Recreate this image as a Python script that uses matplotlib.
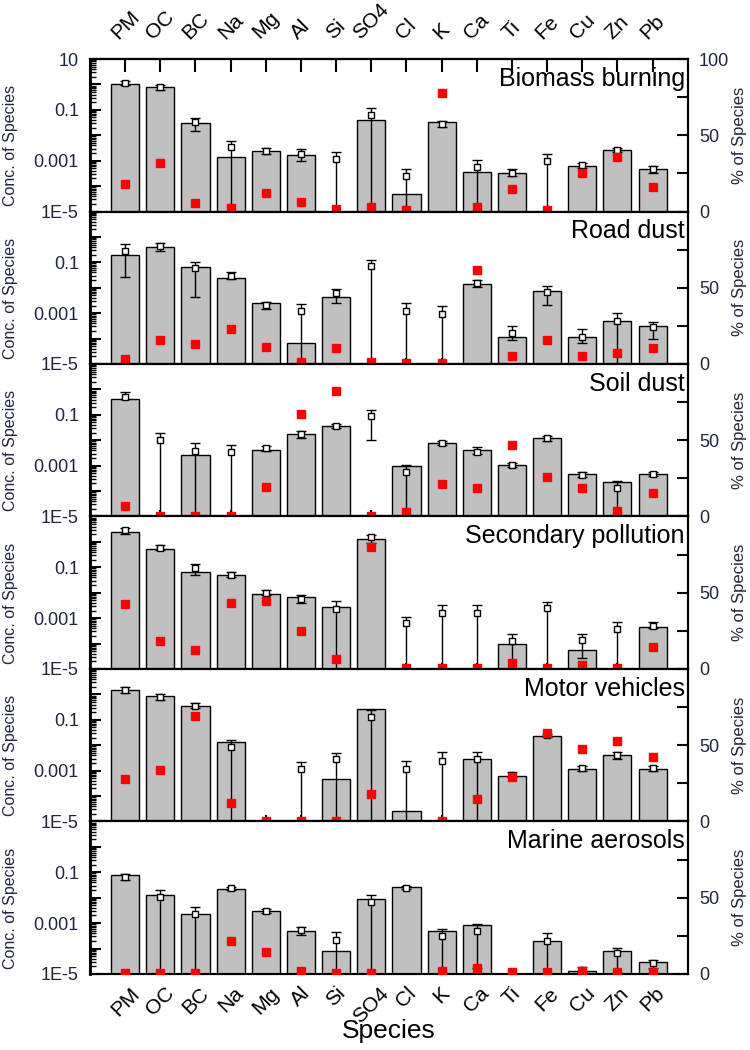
import numpy as np
import matplotlib
matplotlib.use('Agg')
import matplotlib.pyplot as plt
from matplotlib.ticker import FixedLocator, FixedFormatter, LogLocator, NullFormatter

plt.rcParams['font.family'] = ['Liberation Sans', 'DejaVu Sans']

species = ['PM', 'OC', 'BC', 'Na', 'Mg', 'Al', 'Si', 'SO4', 'Cl', 'K', 'Ca', 'Ti', 'Fe', 'Cu', 'Zn', 'Pb']
sources = ['Biomass burning', 'Road dust', 'Soil dust', 'Secondary pollution',
           'Motor vehicles', 'Marine aerosols']
N = None
FLOOR = 1e-7  # lower error limit that falls below the axis

# ---------------- Biomass burning ----------------
bb_bar = [1.0, 0.8, 0.03, 1.4e-3, 2.4e-3, 1.65e-3, N, 0.04, 4.8e-5, 0.032, 3.7e-4, 3.4e-4, N, 6.3e-4, 2.6e-3, 4.7e-4]
bb_mean = [1.1, 0.77, 0.034, 3.4e-3, 2.5e-3, 1.9e-3, 1.15e-3, 0.063, 2.6e-4, 0.028, 5.8e-4, 3.4e-4, 9.5e-4, 6.5e-4, 2.6e-3, 4.6e-4]
bb_hi = [1.36, 0.95, 0.049, 6.2e-3, 3.2e-3, 2.9e-3, 2.2e-3, 0.117, 4.7e-4, 0.038, 1.1e-3, 4.6e-4, 1.8e-3, 7.8e-4, 3.2e-3, 6.3e-4]
bb_lo = [0.91, 0.63, 0.015, FLOOR, 1.8e-3, 1.0e-3, FLOOR, FLOOR, FLOOR, 0.022, FLOOR, 2.6e-4, FLOOR, 5.3e-4, 2.1e-3, 3.4e-4]
bb_pct = [18, 32, 5.8, 2, 12, 6, 1.5, 3, 1, 78, 3, 14.8, 1, 25, 36, 16]

# ---------------- Road dust ----------------
rd_bar = [0.19, 0.41, 0.063, 0.025, 2.45e-3, 7e-5, 4.5e-3, N, N, N, 0.0138, 1.2e-4, 7.4e-3, 1.2e-4, 4.9e-4, 3.2e-4]
rd_mean = [0.29, 0.44, 0.058, 0.03, 2.1e-3, 1.26e-3, 6.5e-3, 0.072, 1.26e-3, 9.3e-4, 0.015, 1.6e-4, 7.1e-3, 1.2e-4, 5e-4, 2.8e-4]
rd_hi = [0.52, 0.59, 0.107, 0.041, 2.75e-3, 2.3e-3, 8.9e-3, 0.12, 2.5e-3, 1.9e-3, 0.02, 3.2e-4, 0.0117, 2.4e-4, 1.0e-3, 4.3e-4]
rd_lo = [0.0275, 0.28, 4.5e-3, 0.0214, 1.4e-3, FLOOR, 2.45e-3, FLOOR, FLOOR, FLOOR, 0.011, 9e-5, 2.1e-3, 6.6e-5, FLOOR, 9.3e-5]
rd_pct = [3, 15.7, 13, 22.8, 11, 1.3, 10.7, 1, 0.5, 0.5, 61.6, 5, 16, 5, 7.4, 10.3]

# ---------------- Soil dust ----------------
sd_bar = [0.42, N, 2.6e-3, N, 4.2e-3, 0.0178, 0.036, N, 9.8e-4, 7.6e-3, 4.2e-3, 1.07e-3, 0.012, 4.6e-4, 2.2e-4, 4.6e-4]
sd_mean = [0.5, 0.0102, 3.9e-3, 3.5e-3, 4.8e-3, 0.018, 0.036, 0.089, 5.5e-4, 7.6e-3, 3.6e-3, 1.07e-3, 0.012, 4.3e-4, 1.3e-4, 4.8e-4]
sd_hi = [0.79, 0.02, 7.6e-3, 6.6e-3, 5.9e-3, 0.024, 0.045, 0.162, 1.07e-3, 9e-3, 5.3e-3, 1.25e-3, 0.015, 5.5e-4, 2.45e-4, 5.6e-4]
sd_lo = [0.42, FLOOR, FLOOR, FLOOR, 3.9e-3, 0.0126, 0.03, 0.0102, FLOOR, 6.5e-3, 3e-3, 9e-4, 9.5e-3, 3.6e-4, FLOOR, 4e-4]
sd_pct = [7, 0.5, 0.5, 0.5, 19.5, 67, 82, 0.5, 3, 21, 19, 46.7, 26, 18.8, 3.6, 15.6]

# ---------------- Secondary pollution ----------------
sp_bar = [2.5, 0.53, 0.066, 0.05, 9.3e-3, 6.5e-3, 2.8e-3, 1.35, N, N, N, 1e-4, N, 5.5e-5, N, 4.4e-4]
sp_mean = [2.9, 0.59, 0.095, 0.05, 0.01, 5.9e-3, 2.3e-3, 1.55, 6.2e-4, 1.6e-3, 1.6e-3, 1.23e-4, 2.4e-3, 1.35e-4, 3.9e-4, 5.1e-4]
sp_hi = [3.6, 0.79, 0.14, 0.066, 0.0123, 7.8e-3, 4.6e-3, 1.95, 1.15e-3, 3.2e-3, 3.2e-3, 2.4e-4, 4.4e-3, 2.3e-4, 6.9e-4, 6.9e-4]
sp_lo = [2.1, 0.46, 0.052, 0.04, 7.8e-3, 4e-3, FLOOR, 0.93, FLOOR, FLOOR, FLOOR, FLOOR, FLOOR, 2.7e-5, FLOOR, 4.1e-4]
sp_pct = [42.4, 18.6, 12.5, 43.5, 44.6, 25, 6.5, 79.8, 0.5, 0.5, 0.5, 4, 0.5, 2.6, 0.5, 14.6]

# ---------------- Motor vehicles ----------------
mv_bar = [1.5, 0.87, 0.36, 0.0134, N, N, 4.6e-4, 0.27, 2.6e-5, N, 2.9e-3, 6.1e-4, 0.024, 1.2e-3, 4e-3, 1.2e-3]
mv_mean = [1.45, 0.8, 0.36, 8.8e-3, N, 1.18e-3, 2.8e-3, 0.13, 1.18e-3, 2.5e-3, 2.9e-3, 7e-4, 0.025, 1.25e-3, 4.2e-3, 1.25e-3]
mv_hi = [1.9, 1.0, 0.45, 0.0158, N, 2.2e-3, 5.1e-3, 0.245, 2.5e-3, 5.2e-3, 5.6e-3, 9.1e-4, 0.028, 1.5e-3, 5.5e-3, 1.5e-3]
mv_lo = [1.1, 0.6, 0.3, FLOOR, N, FLOOR, FLOOR, FLOOR, FLOOR, FLOOR, FLOOR, 5.8e-4, 0.021, 9.5e-4, 2.9e-3, 9.5e-4]
mv_pct = [27.7, 33.6, 68.9, 12, 0.5, 0.5, 0.5, 17.9, -3, 0.5, 14.6, 29.2, 57.7, 47.4, 52.9, 42.6]

# ---------------- Marine aerosols ----------------
ma_bar = [0.082, 0.0126, 2.3e-3, 0.023, 3e-3, 4.8e-4, 7.8e-5, 9.1e-3, 0.026, 4.8e-4, 8.7e-4, N, 2e-4, 1.35e-5, 8e-5, 2.9e-5]
ma_mean = [0.065, 0.011, 2.2e-3, 0.024, 3.1e-3, 5.2e-4, 2.2e-4, 6.6e-3, 0.025, 3.2e-4, 5e-4, N, 2e-4, 1.5e-5, 6.5e-5, 2.8e-5]
ma_hi = [0.089, 0.02, 4.3e-3, 0.027, 3.6e-3, 7e-4, 4.3e-4, 0.0126, 0.028, 6e-4, 9.5e-4, N, 4e-4, 1.9e-5, 1.1e-4, 3.7e-5]
ma_lo = [0.052, FLOOR, FLOOR, 0.02, 2.6e-3, 3.4e-4, FLOOR, FLOOR, 0.022, FLOOR, 1.7e-5, N, FLOOR, 1.2e-5, FLOOR, 1.7e-5]
ma_pct = [0.5, 0.5, 0.5, 21.8, 14.2, 2.2, 0.5, 0.5, N, 2, 4, 1, 1, 2, 1.5, 1.5]

panels = [
    (bb_bar, bb_mean, bb_lo, bb_hi, bb_pct),
    (rd_bar, rd_mean, rd_lo, rd_hi, rd_pct),
    (sd_bar, sd_mean, sd_lo, sd_hi, sd_pct),
    (sp_bar, sp_mean, sp_lo, sp_hi, sp_pct),
    (mv_bar, mv_mean, mv_lo, mv_hi, mv_pct),
    (ma_bar, ma_mean, ma_lo, ma_hi, ma_pct),
]

def arr(v):
    return np.array([np.nan if a is None else a for a in v], dtype=float)

TXT = '#1e2540'
fig = plt.figure(figsize=(7.5, 10.5), dpi=100)
left, right = 0.12, 0.917
top, bottom = 0.9438, 0.0724
h = (top - bottom) / 6
x = np.arange(len(species))
decades = [1e-5, 1e-4, 1e-3, 1e-2, 1e-1, 1, 10]

for k, (bar, mean, lo, hi, pct) in enumerate(panels):
    ax = fig.add_axes([left, top - (k + 1) * h, right - left, h])
    ax.set_yscale('log')
    ax.set_ylim(1e-5, 10)
    ax.set_xlim(-1, len(species))

    bar = arr(bar); mean = arr(mean); lo = arr(lo); hi = arr(hi); pct = arr(pct)
    m = ~np.isnan(bar)
    ax.bar(x[m], bar[m] - 1e-5, bottom=1e-5, width=0.8, color='#c0c0c0',
           edgecolor='black', linewidth=1.0, zorder=2)
    yerr = np.vstack([mean - lo, hi - mean])
    ax.errorbar(x, mean, yerr=yerr, fmt='s', ms=4.5, mfc='white', mec='black', mew=1.0,
                ecolor='black', elinewidth=1.0, capsize=3.5, capthick=1.0, zorder=3)

    # left axis ticks
    ax.yaxis.set_major_locator(FixedLocator(decades))
    labs = ['1E-5', '', '0.001', '', '0.1', '', '10' if k == 0 else '']
    ax.yaxis.set_major_formatter(FixedFormatter(labs))
    ax.yaxis.set_minor_locator(LogLocator(base=10, subs=np.arange(2, 10), numticks=30))
    ax.yaxis.set_minor_formatter(NullFormatter())
    ax.tick_params(axis='y', which='major', direction='in', length=8, width=1.5,
                   labelsize=13, pad=8, labelcolor=TXT, right=False)
    ax.tick_params(axis='y', which='minor', direction='in', length=4, width=1.0, right=False)

    ax.set_xticks(x)
    ax.tick_params(axis='x', which='both', direction='in', length=4, width=1.5,
                   top=False, bottom=True, labelbottom=(k == 5), labelsize=15, pad=7)
    ax.xaxis.set_minor_locator(FixedLocator([]))
    if k == 5:
        ax.set_xticklabels(species, rotation=45, ha='center')
    else:
        ax.set_xticklabels([])
    if k == 0:
        sec = ax.secondary_xaxis('top')
        sec.set_xticks(x)
        sec.set_xticklabels(species, rotation=45, ha='center')
        sec.tick_params(axis='x', direction='in', length=9, width=1.5, labelsize=15, pad=12)
        sec.spines['top'].set_linewidth(1.5)

    for s in ax.spines.values():
        s.set_linewidth(1.5)
    ax.spines['left'].set_linewidth(2.0)

    ax.text(0.995, 0.95, sources[k], transform=ax.transAxes, ha='right', va='top',
            fontsize=18, color='black', zorder=5)
    ax.text(-0.133, 0.43, 'Conc. of Species', transform=ax.transAxes, rotation=90,
            ha='center', va='center', fontsize=11.5, color=TXT)

    # right axis: % of species
    ax2 = ax.twinx()
    ax2.set_ylim(0, 100)
    ax2.yaxis.set_major_locator(FixedLocator([0, 25, 50, 75, 100]))
    ax2.yaxis.set_major_formatter(FixedFormatter(['0', '', '50', '', '100' if k == 0 else '']))
    ax2.tick_params(axis='y', direction='in', length=8, width=1.5, labelsize=13, pad=8,
                    labelcolor=TXT)
    for s in ax2.spines.values():
        s.set_linewidth(1.5)
    pos = pct >= 0
    neg = pct < 0
    ax2.plot(x[pos], pct[pos], 's', color='red', ms=5.5, ls='none', zorder=4)
    ax2.plot(x[neg], pct[neg], 's', color='red', ms=5.5, ls='none', zorder=4, clip_on=False)
    ax2.text(1.087, 0.5, '% of Species', transform=ax2.transAxes, rotation=90,
             ha='center', va='center', fontsize=12, color=TXT)

fig.text((left + right) / 2, 1 - 1031 / 1050, 'Species', ha='center', va='center', fontsize=19)

fig.savefig('out.png', dpi=100)
